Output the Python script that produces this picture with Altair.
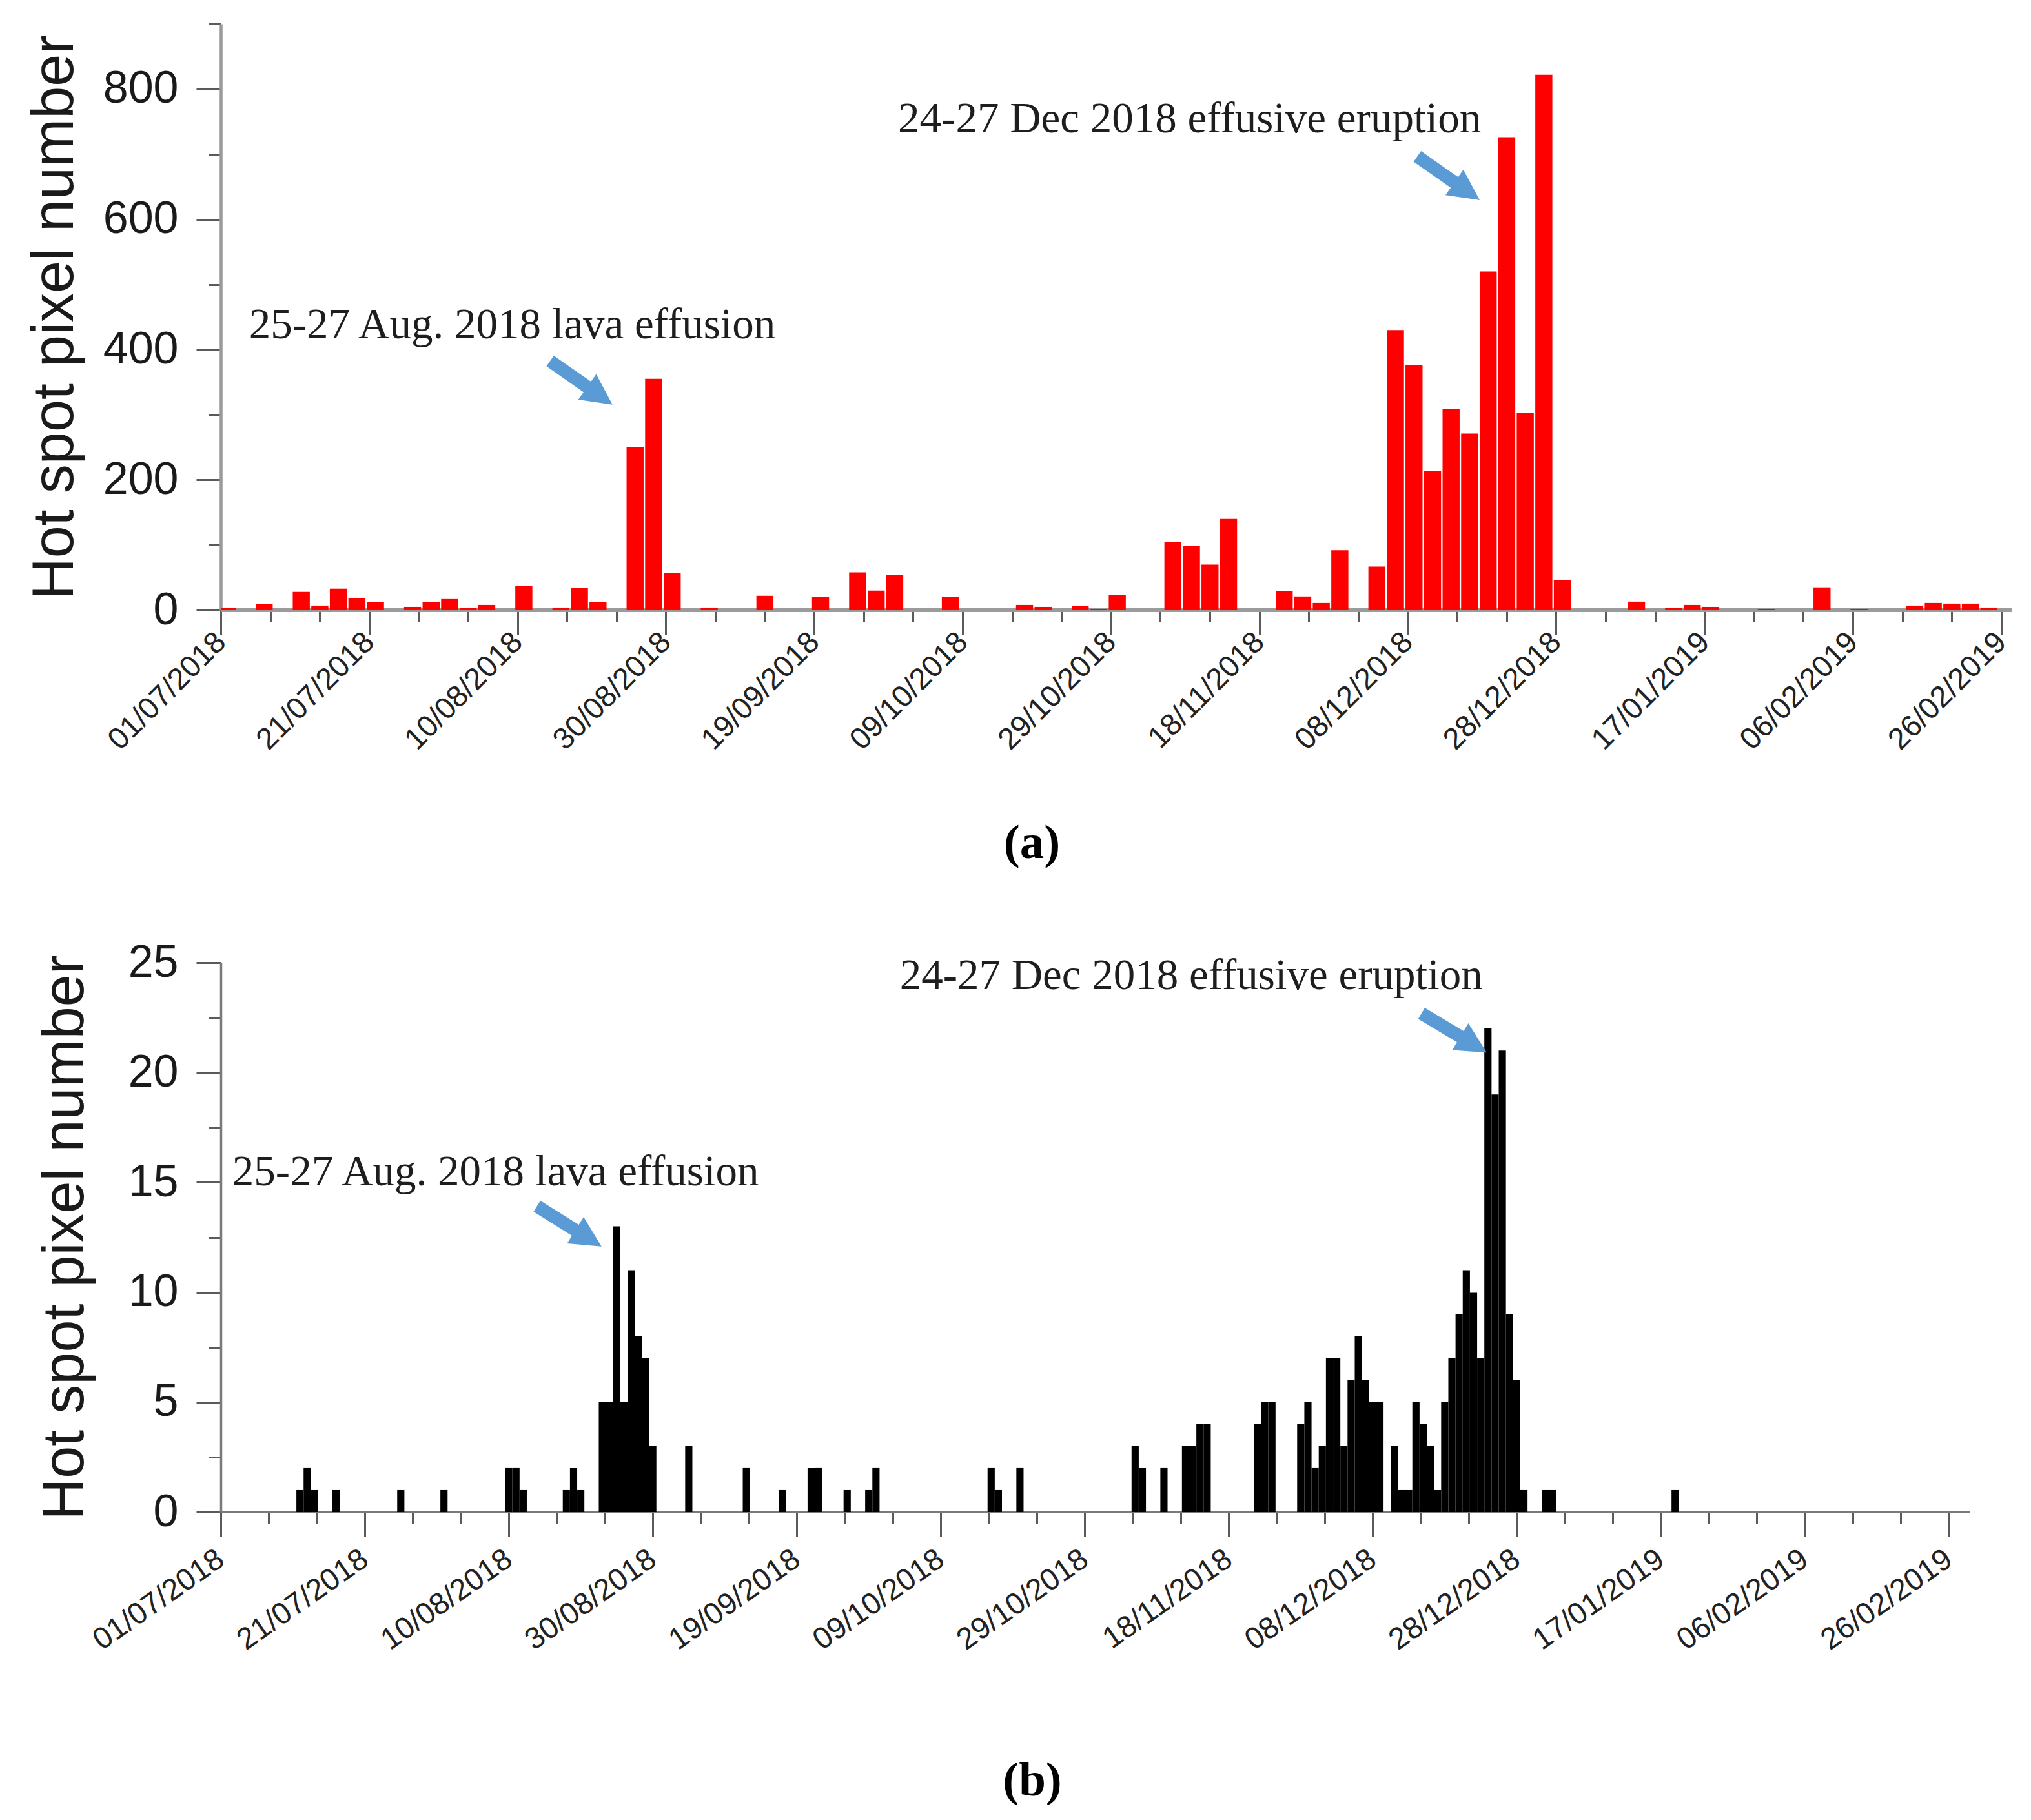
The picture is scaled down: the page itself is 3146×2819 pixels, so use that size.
import json
import altair as alt
import pandas as pd

# ---------------- data ----------------
START_DATE = "2018-07-01"
X_TICK_LABELS = ["01/07/2018", "21/07/2018", "10/08/2018", "30/08/2018", "19/09/2018",
                 "09/10/2018", "29/10/2018", "18/11/2018", "08/12/2018", "28/12/2018",
                 "17/01/2019", "06/02/2019", "26/02/2019"]
TICK_STEP_DAYS = 20

# Panel (a): one bar per 2.5-day composite (bin index, hot spot pixels)
A_BIN_DAYS = 2.5
A_BIN = [0, 2, 4, 5, 6, 7, 8, 10, 11, 12, 13, 14, 16, 18, 19, 20, 22, 23, 24, 26, 29, 32,
         34, 35, 36, 39, 43, 44, 46, 47, 48, 51, 52, 53, 54, 57, 58, 59, 60, 62, 63, 64, 65,
         66, 67, 68, 69, 70, 71, 72, 76, 78, 79, 80, 83, 86, 88, 91, 92, 93, 94, 95]
A_VALUE = [3, 9, 28, 7, 33, 18, 12, 5, 12, 17, 3, 8, 37, 4, 34, 12, 250, 355, 57, 4, 22, 20,
           58, 30, 54, 20, 8, 5, 6, 2, 23, 105, 99, 70, 140, 29, 21, 11, 92, 67, 430, 376, 213,
           309, 271, 520, 726, 303, 822, 46, 13, 3, 8, 5, 2, 35, 2, 7, 11, 10, 10, 4]

# Panel (b): daily values
B_DATE = ["2018-07-12", "2018-07-13", "2018-07-14", "2018-07-17", "2018-07-26", "2018-08-01",
          "2018-08-10", "2018-08-11", "2018-08-12", "2018-08-18", "2018-08-19", "2018-08-20",
          "2018-08-23", "2018-08-24", "2018-08-25", "2018-08-26", "2018-08-27", "2018-08-28",
          "2018-08-29", "2018-08-30", "2018-09-04", "2018-09-12", "2018-09-17", "2018-09-21",
          "2018-09-22", "2018-09-26", "2018-09-29", "2018-09-30", "2018-10-16", "2018-10-17",
          "2018-10-20", "2018-11-05", "2018-11-06", "2018-11-09", "2018-11-12", "2018-11-13",
          "2018-11-14", "2018-11-15", "2018-11-22", "2018-11-23", "2018-11-24", "2018-11-28",
          "2018-11-29", "2018-11-30", "2018-12-01", "2018-12-02", "2018-12-03", "2018-12-04",
          "2018-12-05", "2018-12-06", "2018-12-07", "2018-12-08", "2018-12-09", "2018-12-11",
          "2018-12-12", "2018-12-13", "2018-12-14", "2018-12-15", "2018-12-16", "2018-12-17",
          "2018-12-18", "2018-12-19", "2018-12-20", "2018-12-21", "2018-12-22", "2018-12-23",
          "2018-12-24", "2018-12-25", "2018-12-26", "2018-12-27", "2018-12-28", "2018-12-29",
          "2019-01-01", "2019-01-02", "2019-01-19"]
B_VALUE = [1, 2, 1, 1, 1, 1,
           2, 2, 1, 1, 2, 1,
           5, 5, 13, 5, 11, 8,
           7, 3, 3, 2, 1, 2,
           2, 1, 1, 2, 2, 1,
           2, 3, 2, 2, 3, 3,
           4, 4, 4, 5, 5, 4,
           5, 2, 3, 7, 7, 3,
           6, 8, 6, 5, 5, 3,
           1, 1, 5, 4, 3, 1,
           5, 7, 9, 11, 10, 7,
           22, 19, 21, 9, 6, 1,
           1, 1, 1]

NOTE_TEXT = ["25-27 Aug. 2018 lava effusion", "24-27 Dec 2018 effusive eruption"]
A_NOTE_DAY = [3.8, 91.3]
A_NOTE_VALUE = [417, 733]
A_ARROW_DAY = [48.6, 165.5]
A_ARROW_VALUE = [349, 663]
A_ARROW_ANGLE = [35, 35]
B_NOTE_DAY = [1.6, 94.3]
B_NOTE_VALUE = [14.86, 23.8]
B_ARROW_DAY = [48.4, 171.3]
B_ARROW_VALUE = [13.0, 21.8]
B_ARROW_ANGLE = [32, 31]

assert len(A_BIN) == len(A_VALUE)
assert len(B_DATE) == len(B_VALUE)

# ---------------- frames ----------------
a_df = pd.DataFrame({"bin": A_BIN, "value": A_VALUE})
a_df["x0"] = a_df["bin"] * A_BIN_DAYS - 0.3
a_df["x1"] = a_df["x0"] + 2.3

b_df = pd.DataFrame({"date": pd.to_datetime(B_DATE), "value": B_VALUE})
b_df["day"] = (b_df["date"] - pd.Timestamp(START_DATE)).dt.days
b_df["x0"] = b_df["day"] - 0.5
b_df["x1"] = b_df["day"] + 0.5
b_df = b_df.drop(columns=["date"])

ARROW_PATH = "M-1,-0.17L0.19,-0.17L0.19,-0.41L1,0L0.19,0.41L0.19,0.17L-1,0.17Z"
ARROW_BLUE = "#5B9BD5"
SANS = "Liberation Sans"
SERIF = "Liberation Serif"

label_expr = json.dumps(X_TICK_LABELS) + "[round(datum.value / %d)]" % TICK_STEP_DAYS
major_x = list(range(0, 241, TICK_STEP_DAYS))
minor_x = [i * TICK_STEP_DAYS / 3 for i in range(37)]


def panel(df, bar_color, x_max, y_max, y_major, y_minor, width, height,
          label_angle, label_pad, title_pad, notes, arrows, caption, caption_dx,
          caption_offset, domain_color, domain_width, tick_color):
    xs = alt.Scale(domain=[0, x_max], nice=False, zero=False)
    ys = alt.Scale(domain=[0, y_max], nice=False)

    x_major_axis = alt.Axis(values=major_x, labelExpr=label_expr, labelAngle=label_angle,
                            labelAlign="right", labelBaseline="middle", labelFont=SANS,
                            labelFontSize=47, labelColor="#222222", labelPadding=label_pad,
                            labelLimit=0,
                            tickSize=38, tickWidth=3, tickColor=tick_color, domain=False,
                            grid=False, title=None, orient="bottom", labelOverlap=False,
                            labelBound=False, labelFlush=False)
    x_minor_axis = alt.Axis(values=minor_x, labels=False, tickSize=18, tickWidth=3,
                            tickColor=tick_color, domain=False, grid=False, title=None,
                            orient="bottom")
    y_major_axis = alt.Axis(values=y_major, labelFont=SANS, labelFontSize=70,
                            labelColor="#1a1a1a", labelPadding=28, tickSize=38, tickWidth=3,
                            tickColor=tick_color, domain=True, domainColor=domain_color,
                            domainWidth=domain_width, grid=False,
                            title="Hot spot pixel number", titleFont=SANS, titleFontSize=90,
                            titleFontWeight="normal", titleColor="#1a1a1a",
                            titlePadding=title_pad, orient="left", labelOverlap=False,
                            labelFlush=False)
    y_minor_axis = alt.Axis(values=y_minor, labels=False, tickSize=19, tickWidth=3,
                            tickColor=tick_color, domain=False, grid=False, title=None,
                            orient="left")

    zero_line = alt.Chart(df).mark_rule(color=domain_color, strokeWidth=domain_width).encode(
        y=alt.YDatum(0, scale=ys, axis=None),
    )
    bars = alt.Chart(df).mark_rect(color=bar_color, clip=True, strokeWidth=0).encode(
        x=alt.X("x0:Q", scale=xs, axis=x_major_axis),
        x2="x1:Q",
        y=alt.Y("value:Q", scale=ys, axis=y_major_axis),
        y2=alt.datum(0),
    )
    minor = alt.Chart(df).mark_point(opacity=0).encode(
        x=alt.X("x0:Q", scale=xs, axis=x_minor_axis),
        y=alt.Y("value:Q", scale=ys, axis=y_minor_axis),
    )
    note_df = pd.DataFrame({"text": NOTE_TEXT, "day": notes[0], "value": notes[1]})
    texts = alt.Chart(note_df).mark_text(font=SERIF, fontSize=67, align="left",
                                         baseline="alphabetic", color="#1e1e1e").encode(
        x=alt.X("day:Q", scale=xs, axis=None),
        y=alt.Y("value:Q", scale=ys, axis=None),
        text="text:N",
    )
    arrow_df = pd.DataFrame({"day": arrows[0], "value": arrows[1], "angle": arrows[2]})
    arrow = alt.Chart(arrow_df).mark_point(shape=ARROW_PATH, filled=True, color=ARROW_BLUE,
                                           opacity=1, size=13900, strokeWidth=0).encode(
        x=alt.X("day:Q", scale=xs, axis=None),
        y=alt.Y("value:Q", scale=ys, axis=None),
        angle=alt.Angle("angle:Q", scale=None),
    )
    return alt.layer(minor, zero_line, bars, texts, arrow).resolve_axis(
        x="independent", y="independent"
    ).properties(
        width=width, height=height,
        title=alt.TitleParams(caption, orient="bottom", anchor="middle", frame="group",
                              dx=caption_dx, offset=caption_offset, font=SERIF,
                              fontSize=75, fontWeight="bold", color="black"),
    )


panel_a = panel(a_df, "#FF0000", 241.5, 900, list(range(0, 801, 200)),
                list(range(0, 901, 100)), 2775, 908, -45, 4, 28,
                (A_NOTE_DAY, A_NOTE_VALUE), (A_ARROW_DAY, A_ARROW_VALUE, A_ARROW_ANGLE),
                "(a)", -131, 100, "#9a9a9a", 4.5, "#5a5a5a")
panel_b = panel(b_df, "#000000", 243, 25, list(range(0, 26, 5)),
                [i * 2.5 for i in range(11)], 2710, 851, -35, 30, 51,
                (B_NOTE_DAY, B_NOTE_VALUE), (B_ARROW_DAY, B_ARROW_VALUE, B_ARROW_ANGLE),
                "(b)", -98, 158, "#7a7a7a", 3.5, "#5a5a5a")

chart = alt.vconcat(panel_a, panel_b, spacing=112).properties(
    padding={"left": 32, "top": 27, "right": 10, "bottom": 0},
    background="white",
).configure_view(stroke=None)

chart.save("out.html", embed_options={"renderer": "svg", "actions": False})
